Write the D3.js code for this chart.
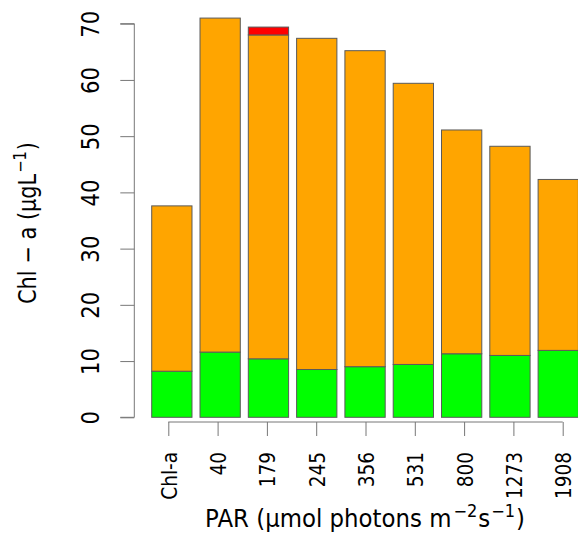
<!DOCTYPE html>
<html><head><meta charset="utf-8">
<script src="https://cdn.jsdelivr.net/npm/d3@7"></script>
<style>body{margin:0;background:#fff}svg{display:block}</style>
</head><body>
<script>
const categories = ["Chl-a","40","179","245","356","531","800","1273","1908"];
const green  = [8.2, 11.6, 10.4, 8.5, 9.0, 9.4, 11.3, 11.0, 11.9];
const orange = [29.4, 59.4, 57.6, 58.9, 56.2, 50.0, 39.8, 37.2, 30.4];
const red    = [0, 0, 1.4, 0, 0, 0, 0, 0, 0];
const yTicks = [0,10,20,30,40,50,60,70];
const colors = ["#00FF00","#FFA500","#FF0000"];

const W=578,H=533;
const FONT="'DejaVu Sans', Verdana, sans-serif";
const svg=d3.select("body").append("svg").attr("width",W).attr("height",H);

const y=d3.scaleLinear().domain([0,70]).range([417.3,23.7]);
const xb=d3.scaleBand().domain(categories).range([147.7, 147.7+48.3*9]).paddingInner(0.166).paddingOuter(0.083);
// tick positions (offset from bars as in the reference)
const xt=d3.scalePoint().domain(categories).range([168.3,562.7]);

const data=categories.map((c,i)=>({cat:c,green:green[i],orange:orange[i],red:red[i]}));
const stack=d3.stack().keys(["green","orange","red"])(data);

const g=svg.append("g");
stack.forEach((layer,li)=>{
  g.selectAll(null).data(layer).enter().append("rect")
    .filter(d=>d[1]-d[0]>0)
    .attr("x",d=>xb(d.data.cat))
    .attr("width",xb.bandwidth())
    .attr("y",d=>y(d[1]))
    .attr("height",d=>y(d[0])-y(d[1]))
    .attr("fill",colors[li])
    .attr("stroke","#5a5a5a").attr("stroke-width",1);
});

// y axis
const ya=svg.append("g").attr("transform","translate(134.3,0)")
  .call(d3.axisLeft(y).tickValues(yTicks).tickSize(14).tickPadding(0).tickFormat(d3.format("d")));
ya.select(".domain").attr("stroke","#777").attr("d",`M-14,${y(0)}H0V${y(70)}H-14`);
ya.selectAll(".tick line").attr("stroke","#777");
ya.selectAll(".tick text").attr("font-family",FONT).attr("font-size",24).attr("fill","#000")
  .attr("text-anchor","middle").attr("x",0).attr("y",0).attr("dy",0)
  .attr("transform","translate(-35,0) rotate(-90) scale(0.885,1)");

// x axis
const xa=svg.append("g").attr("transform","translate(0,422)")
  .call(d3.axisBottom(xt).tickSize(14).tickSizeOuter(0));
xa.select(".domain").attr("stroke","#777").attr("d",`M168.3,0H562.7`);
xa.selectAll(".tick line").attr("stroke","#777");
xa.selectAll(".tick text").attr("font-family",FONT).attr("font-size",21).attr("fill","#000")
  .attr("text-anchor","end").attr("x",0).attr("y",0).attr("dy",0)
  .attr("transform","translate(8,30) rotate(-90) scale(0.88,1)");

function fit(sel, target, base){
  sel.attr("transform", base);
  const w=sel.node().getBBox().width;
  sel.attr("transform", base+` scale(${target/w},1)`);
}

// y title
const yt=svg.append("text").attr("text-anchor","middle")
  .attr("font-family",FONT).attr("font-size",24).attr("fill","#000");
yt.append("tspan").text("Chl − a (µgL");
yt.append("tspan").text("−1").attr("font-size",17).attr("dy",-10).attr("dx",1);
yt.append("tspan").text(")").attr("dy",10).attr("dx",1);
fit(yt,162,"translate(36,223) rotate(-90)");

// x title
const xtt=svg.append("text").attr("text-anchor","middle")
  .attr("font-family",FONT).attr("font-size",24).attr("fill","#000");
xtt.append("tspan").text("PAR (µmol photons m");
xtt.append("tspan").text("−2").attr("font-size",17).attr("dy",-10).attr("dx",2);
xtt.append("tspan").text("s").attr("dy",10).attr("dx",1);
xtt.append("tspan").text("−1").attr("font-size",17).attr("dy",-10).attr("dx",1);
xtt.append("tspan").text(")").attr("dy",10).attr("dx",1);
fit(xtt,320,"translate(365,527)");
</script>
</body></html>
